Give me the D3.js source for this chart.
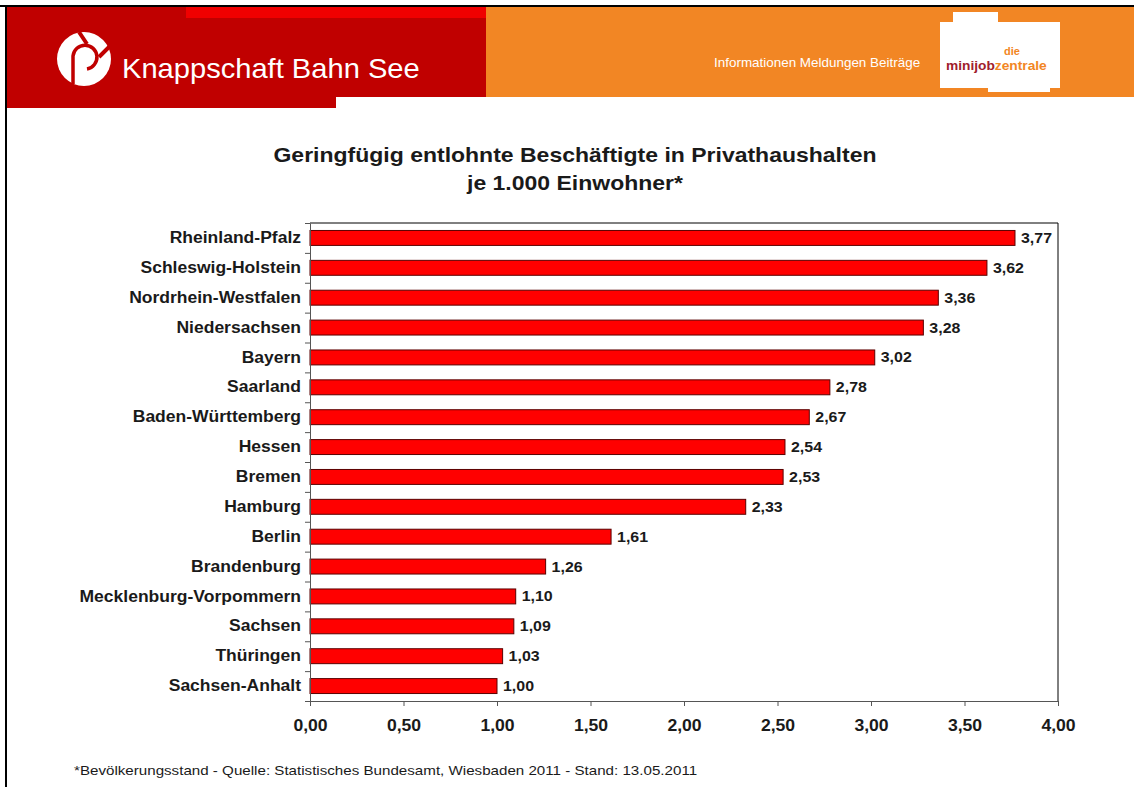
<!DOCTYPE html>
<html>
<head>
<meta charset="utf-8">
<script src="https://cdn.jsdelivr.net/npm/d3@7"></script>
<style>
  body { margin: 0; background: #fff; }
  svg { display: block; font-family: Arial, "Liberation Sans", sans-serif; }
</style>
</head>
<body>
<div id="container"></div>
<script>
const states = ["Rheinland-Pfalz", "Schleswig-Holstein", "Nordrhein-Westfalen", "Niedersachsen",
  "Bayern", "Saarland", "Baden-Württemberg", "Hessen", "Bremen", "Hamburg", "Berlin",
  "Brandenburg", "Mecklenburg-Vorpommern", "Sachsen", "Thüringen", "Sachsen-Anhalt"];
const values = [3.77, 3.62, 3.36, 3.28, 3.02, 2.78, 2.67, 2.54, 2.53, 2.33, 1.61, 1.26, 1.10, 1.09, 1.03, 1.00];
const xTicks = [0, 0.5, 1, 1.5, 2, 2.5, 3, 3.5, 4];
const titleLines = ["Geringfügig entlohnte Beschäftigte in Privathaushalten", "je 1.000 Einwohner*"];
const footnote = "*Bevölkerungsstand - Quelle: Statistisches Bundesamt, Wiesbaden 2011 - Stand: 13.05.2011";

const w = 1134, h = 787;
const plot = {left: 310, right: 1058, top: 223, bottom: 701};
const comma = (d) => d3.format(".2f")(d).replace(".", ",");

// the source picture is a bit wider than it is tall, so text gets stretched sideways
const stretch = (sx) => (sel) => sel.attr("transform", function() {
    const t = d3.select(this);
    const tx = +t.attr("x") || 0, ty = +t.attr("y") || 0;
    return "translate(" + tx + "," + ty + ") scale(" + sx + ",1) translate(" + (-tx) + "," + (-ty) + ")";
});

let svg = d3.select("#container")
    .append("svg")
    .attr("width", w)
    .attr("height", h);

// ---- header bar ----
let header = svg.append("g").attr("id", "header");
header.append("rect").attr("x", 486).attr("y", 7).attr("width", w - 486).attr("height", 90).attr("fill", "#f28624");
header.append("rect").attr("x", 7).attr("y", 7).attr("width", 479).attr("height", 90).attr("fill", "#c00000");
header.append("rect").attr("x", 7).attr("y", 96).attr("width", 329).attr("height", 12).attr("fill", "#c00000");
header.append("rect").attr("x", 186).attr("y", 7).attr("width", 300).attr("height", 11).attr("fill", "#f00000");

// knappschaft logo (rough)
let logo = header.append("g").attr("transform", "translate(84,59)");
logo.append("circle").attr("r", 27).attr("fill", "#fff");
logo.append("path")
    .attr("d", "M-11,25 L-11,-3 A12,12 0 1 1 3,10")
    .attr("fill", "none").attr("stroke", "#c00000").attr("stroke-width", 3.5);
logo.append("path")
    .attr("d", "M-5,-27 L3,-15 M25,-12 L15,-2")
    .attr("stroke", "#c00000").attr("stroke-width", 4);

header.append("text")
    .attr("x", 122).attr("y", 78)
    .attr("fill", "#fff")
    .style("font-size", "28px")
    .text("Knappschaft Bahn See")
    .call(stretch(1.04));

header.append("text")
    .attr("x", 714).attr("y", 67)
    .attr("fill", "#fff")
    .style("font-size", "12px")
    .text("Informationen  Meldungen  Beiträge")
    .call(stretch(1.12));

// minijob-zentrale logo
header.append("path")
    .attr("d", "M940,22 L953,22 L953,12 L998,12 L998,22 L1060,22 L1060,88 L1050,88 L1050,92 L988,92 L988,88 L940,88 Z")
    .attr("fill", "#fff");
header.append("text")
    .attr("x", 1012).attr("y", 55)
    .attr("text-anchor", "middle")
    .attr("fill", "#f28624")
    .style("font-size", "11px").style("font-weight", "bold")
    .text("die");
let mj = header.append("text")
    .attr("x", 946).attr("y", 70)
    .style("font-size", "12.5px").style("font-weight", "bold");
mj.append("tspan").attr("fill", "#a0202c").text("minijob");
mj.append("tspan").attr("fill", "#f28624").text("zentrale");
mj.call(stretch(1.1));

// outer frame lines
svg.append("rect").attr("x", 0).attr("y", 5).attr("width", w).attr("height", 2).attr("fill", "#000");
svg.append("rect").attr("x", 5).attr("y", 5).attr("width", 2).attr("height", h - 5).attr("fill", "#000");

// ---- title ----
svg.append("g").selectAll("text")
    .data(titleLines)
    .enter()
    .append("text")
    .attr("x", 575)
    .attr("y", (d, i) => 162 + i * 28)
    .attr("text-anchor", "middle")
    .attr("fill", "#1a1a1a")
    .style("font-size", "20px")
    .style("font-weight", "bold")
    .text((d) => d)
    .call(stretch(1.15));

// ---- scales ----
const x = d3.scaleLinear().domain([0, 4]).range([plot.left, plot.right]);
const y = d3.scaleBand().domain(states).range([plot.top, plot.bottom]).paddingInner(0.5).paddingOuter(0.25);
const yIdx = d3.scaleLinear().domain([0, states.length]).range([plot.top, plot.bottom]);

// frame top/right
svg.append("path")
    .attr("d", "M" + plot.left + "," + plot.top + "H" + plot.right + "V" + plot.bottom)
    .attr("fill", "none").attr("stroke", "#000").attr("stroke-width", 1);

// bars
svg.append("g").selectAll("rect")
    .data(values)
    .enter()
    .append("rect")
    .attr("x", x(0))
    .attr("y", (d, i) => y(states[i]))
    .attr("width", (d) => x(d) - x(0))
    .attr("height", y.bandwidth())
    .attr("fill", "#ff0000")
    .attr("stroke", "#5a0000")
    .attr("stroke-width", 1);

// value labels
svg.append("g").selectAll("text")
    .data(values)
    .enter()
    .append("text")
    .attr("x", (d) => x(d) + 6)
    .attr("y", (d, i) => y(states[i]) + y.bandwidth() / 2 + 5)
    .attr("fill", "#1a1a1a")
    .style("font-size", "14.5px")
    .style("font-weight", "bold")
    .text((d) => comma(d))
    .call(stretch(1.1));

// y axis: boundary ticks + category labels
let yTickAxis = d3.axisLeft(yIdx).tickValues(d3.range(states.length + 1)).tickFormat("").tickSize(5).tickSizeOuter(0);
svg.append("g")
    .attr("transform", "translate(" + plot.left + ",0)")
    .call(yTickAxis)
    .call((g) => g.selectAll("line,path").attr("stroke", "#555"));

let yLabelAxis = d3.axisLeft(y).tickSize(0).tickPadding(9);
svg.append("g")
    .attr("transform", "translate(" + plot.left + ",0)")
    .call(yLabelAxis)
    .call((g) => g.select(".domain").remove())
    .call((g) => g.selectAll("text")
        .attr("fill", "#1a1a1a")
        .style("font-family", "Arial, 'Liberation Sans', sans-serif")
        .style("font-size", "16px")
        .style("font-weight", "bold")
        .call(stretch(1.095)));

// x axis
let xAxis = d3.axisBottom(x).tickValues(xTicks).tickFormat(comma).tickSize(5).tickSizeOuter(0).tickPadding(14);
svg.append("g")
    .attr("transform", "translate(0," + plot.bottom + ")")
    .call(xAxis)
    .call((g) => g.selectAll("line,path").attr("stroke", "#555"))
    .call((g) => g.selectAll("text")
        .attr("fill", "#1a1a1a")
        .style("font-family", "Arial, 'Liberation Sans', sans-serif")
        .style("font-size", "16px")
        .style("font-weight", "bold")
        .call(stretch(1.1)));

// footnote
svg.append("text")
    .attr("x", 74).attr("y", 775)
    .attr("fill", "#1a1a1a")
    .style("font-size", "13px")
    .text(footnote)
    .call(stretch(1.165));
</script>
</body>
</html>
